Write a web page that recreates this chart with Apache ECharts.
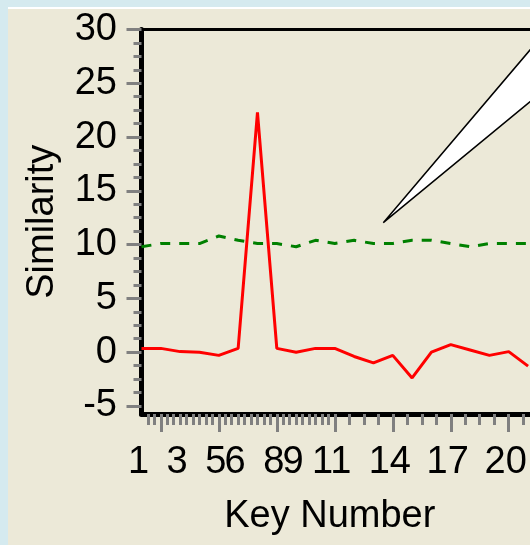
<!DOCTYPE html>
<html><head><meta charset="utf-8">
<script src="https://cdn.jsdelivr.net/npm/echarts@6/dist/echarts.min.js"></script>
<style>
html,body{margin:0;padding:0;background:#d5eaef;overflow:hidden;}
#panel{position:absolute;left:8px;top:7px;width:522px;height:538px;background:#ece9d8;border-top:2px solid #ffffff;box-sizing:border-box;}
#c{position:absolute;left:0;top:0;width:530px;height:545px;}
</style>
</head><body><div id="panel"></div><div id="c"></div>
<script>
// Key numbers (x) and the two series
const keys = [1,2,3,4,5,6,7,8,9,10,11,12,13,14,15,16,17,18,19,20,21];
const similarity = [0.35,0.35,0.05,0.0,-0.3,0.35,22.3,0.35,0.0,0.35,0.35,-0.4,-1.0,-0.3,-2.4,0.0,0.7,0.2,-0.3,0.05,-1.3];
const threshold = [9.8,10.1,10.1,10.1,10.8,10.4,10.1,10.1,9.8,10.4,10.1,10.4,10.1,10.1,10.4,10.4,10.1,9.8,10.1,10.1,10.1];
// Axis tick labels
const yTickValues = [-5,0,5,10,15,20,25,30];
const yMinorTickValues = [-3.75,-2.5,-1.25,1.25,2.5,3.75,6.25,7.5,8.75,11.25,12.5,13.75,16.25,17.5,18.75,21.25,22.5,23.75,26.25,27.5,28.75];
const xLabelValues = [1,3,5,6,8,9,11,14,17,20];
const xMajorTickValues = [2,5,8,11,14,17,20];
const xMinorTickValues = [1.333,1.667,2.333,2.667,3,3.333,3.667,4,4.333,4.667,5.333,5.667,6,6.333,6.667,7,7.333,7.667,8.333,8.667,9,9.333,9.667,10,10.333,10.667,11.75,12.5,13.25,14.75,15.5,16.25,17.75,18.5,19.25,20.75];

const FONT = 'Liberation Sans, Arial, sans-serif';
const chart = echarts.init(document.getElementById('c'), null, {renderer:'canvas'});
const tickStyle = {color:'#808080', width:3};
const xr = {min:1, max:21.1};
const yr = {min:-5.75, max:30};
chart.setOption({
  animation:false,
  backgroundColor:'transparent',
  grid:{left:141.5, top:29.5, right:0, bottom:131, containLabel:false},
  xAxis:[
    {type:'value', ...xr, position:'bottom',
     axisLine:{show:true, onZero:false, lineStyle:{color:'#000', width:5}},
     axisTick:{show:true, customValues:xMajorTickValues, length:18, lineStyle:tickStyle},
     axisLabel:{customValues:xLabelValues, margin:30, fontSize:38, fontFamily:FONT, color:'#000', showMinLabel:true, showMaxLabel:true, padding:[0,6,0,0]},
     splitLine:{show:false},
     name:'Key Number', nameLocation:'middle', nameGap:84,
     nameTextStyle:{fontSize:38, fontFamily:FONT, color:'#000', padding:[0,12,0,0]}},
    {type:'value', ...xr, position:'bottom',
     axisLine:{show:false, onZero:false},
     axisTick:{show:true, customValues:xMinorTickValues, length:11, lineStyle:tickStyle},
     axisLabel:{show:false}, splitLine:{show:false}},
    {type:'value', ...xr, position:'top',
     axisLine:{show:true, onZero:false, lineStyle:{color:'#000', width:3}},
     axisTick:{show:false}, axisLabel:{show:false}, splitLine:{show:false}}
  ],
  yAxis:[
    {type:'value', ...yr, position:'left',
     axisLine:{show:true, onZero:false, lineStyle:{color:'#000', width:5}},
     axisTick:{show:true, customValues:yTickValues, length:15, lineStyle:tickStyle},
     axisLabel:{customValues:yTickValues, margin:24.5, fontSize:38, fontFamily:FONT, color:'#000', showMinLabel:true, showMaxLabel:true},
     splitLine:{show:false},
     name:'Similarity', nameLocation:'middle', nameGap:80, nameRotate:90,
     nameTextStyle:{fontSize:38, fontFamily:FONT, color:'#000'}},
    {type:'value', ...yr, position:'left',
     axisLine:{show:false, onZero:false},
     axisTick:{show:true, customValues:yMinorTickValues, length:8, lineStyle:tickStyle},
     axisLabel:{show:false}, splitLine:{show:false}}
  ],
  series:[
    {type:'line', name:'Threshold', xAxisIndex:0, yAxisIndex:0, symbol:'none',
     lineStyle:{color:'#008000', width:3, type:[10,9]},
     data:keys.map((k,i)=>[k, threshold[i]])},
    {type:'line', name:'Similarity', xAxisIndex:0, yAxisIndex:0, symbol:'none',
     lineStyle:{color:'#ff0000', width:3},
     data:keys.map((k,i)=>[k, similarity[i]])}
  ],
  graphic:[
    {type:'polygon', z:100, shape:{points:[[383.3,222.7],[560,14.7],[560,76.9]]},
     style:{fill:'#ffffff', stroke:'#000000', lineWidth:1.5}}
  ]
});
</script>
</body></html>
